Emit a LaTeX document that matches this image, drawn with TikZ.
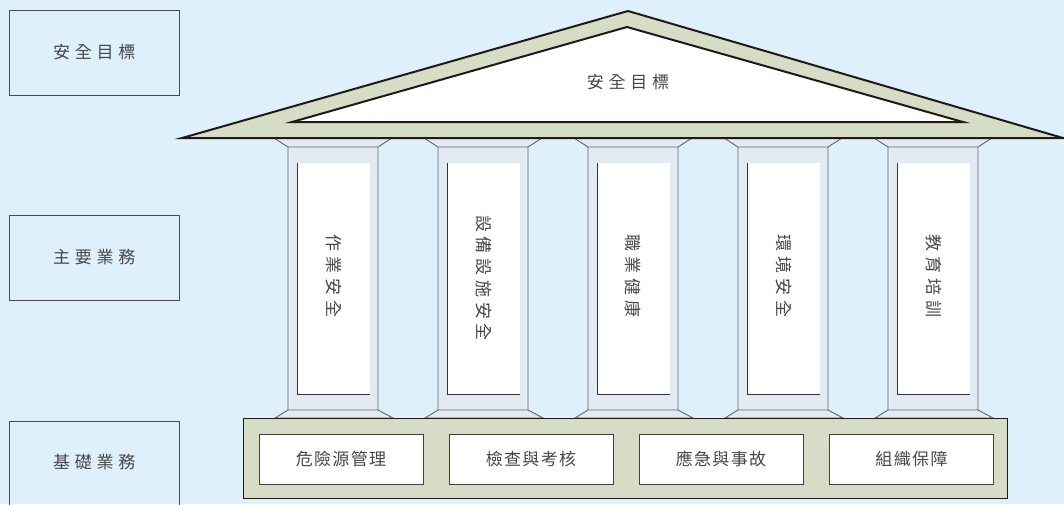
\documentclass[tikz,border=0pt]{standalone}
\usepackage{fontspec}
\newfontfamily\cjk{Noto Sans CJK TC}[LetterSpace=28]
\newfontfamily\cjktight{Noto Sans CJK TC}[LetterSpace=8]
\definecolor{skybg}{HTML}{DDF0FB}
\definecolor{roofgreen}{HTML}{D7DCC7}
\definecolor{shaftblue}{HTML}{E2EAF4}
\definecolor{inkline}{HTML}{231815}
\definecolor{textgray}{HTML}{484848}

\begin{document}
\begin{tikzpicture}[x=1pt, y=-1pt,
    txt/.style={font=\cjk\fontsize{17}{19}\selectfont, text=textgray},
    sidebox/.style={txt, draw=black!70, line width=0.9pt, minimum width=169.5pt, minimum height=85pt},
    taskbox/.style={txt, font=\cjktight\fontsize{17}{19}\selectfont, draw=black!75, line width=0.9pt, fill=white, minimum width=164pt, minimum height=50pt},
    pillar/.style={fill=shaftblue, draw=black!60, line width=0.9pt},
    panel/.style={draw=black!80, line width=0.9pt},
    roofline/.style={draw=inkline, line width=2pt, line join=miter}]
        \clip (0,0) rectangle (1064,504);
        \fill[skybg] (0,0) rectangle (1064,504);

        % Side labels
        \node[sidebox] (goal) at (94.25,52.5) {安全目標};
        \node[sidebox] (main) at (94.25,257.5) {主要業務};
        \draw[draw=black!70, line width=0.9pt] (9.5,421) rectangle (179,512);
        \node[txt] (basic) at (94.25,462) {基礎業務};

        % Pillar 1
        \path[pillar] (274,138) -- (392,138) -- (378,147) -- (288,147) -- cycle (288,147) rectangle (378,410) (288,410) -- (378,410) -- (393,418) -- (275,418) -- cycle;
        \fill[white] (297,163) rectangle (370,394);
        \draw[panel] (297,163) -- (297,394) -- (370,394);
        \node[txt, rotate=-90] (work) at (333.5,276) {作業安全};

        % Pillar 2
        \path[pillar] (424,138) -- (542,138) -- (528,147) -- (438,147) -- cycle (438,147) rectangle (528,410) (438,410) -- (528,410) -- (543,418) -- (425,418) -- cycle;
        \fill[white] (447,163) rectangle (520,394);
        \draw[panel] (447,163) -- (447,394) -- (520,394);
        \node[txt, rotate=-90] (equip) at (483.5,278) {設備設施安全};

        % Pillar 3
        \path[pillar] (574,138) -- (692,138) -- (678,147) -- (588,147) -- cycle (588,147) rectangle (678,410) (588,410) -- (678,410) -- (693,418) -- (575,418) -- cycle;
        \fill[white] (597,163) rectangle (670,394);
        \draw[panel] (597,163) -- (597,394) -- (670,394);
        \node[txt, rotate=-90] (health) at (633.5,276) {職業健康};

        % Pillar 4
        \path[pillar] (724,138) -- (842,138) -- (828,147) -- (738,147) -- cycle (738,147) rectangle (828,410) (738,410) -- (828,410) -- (843,418) -- (725,418) -- cycle;
        \fill[white] (747,163) rectangle (820,394);
        \draw[panel] (747,163) -- (747,394) -- (820,394);
        \node[txt, rotate=-90] (env) at (783.5,276) {環境安全};

        % Pillar 5
        \path[pillar] (874,138) -- (992,138) -- (978,147) -- (888,147) -- cycle (888,147) rectangle (978,410) (888,410) -- (978,410) -- (993,418) -- (875,418) -- cycle;
        \fill[white] (897,163) rectangle (970,394);
        \draw[panel] (897,163) -- (897,394) -- (970,394);
        \node[txt, rotate=-90] (train) at (933.5,276) {教育培訓};

        % Roof
        \path[roofline, fill=roofgreen] (182,138) -- (628,11) -- (1063,138) -- cycle;
        \path[roofline, fill=white] (292,122) -- (627,27) -- (963,122) -- cycle;
        \node[txt] (roof) at (628,82) {安全目標};

        % Base
        \node[draw=inkline, line width=0.9pt, fill=roofgreen, minimum width=764pt, minimum height=80pt] (base) at (625,458) {};
        \node[taskbox] (hazard) at (341,459) {危險源管理};
        \node[taskbox] (inspect) at (531,459) {檢查與考核};
        \node[taskbox] (emerg) at (721,459) {應急與事故};
        \node[taskbox] (org) at (911.5,459) {組織保障};
    \end{tikzpicture}
\end{document}
